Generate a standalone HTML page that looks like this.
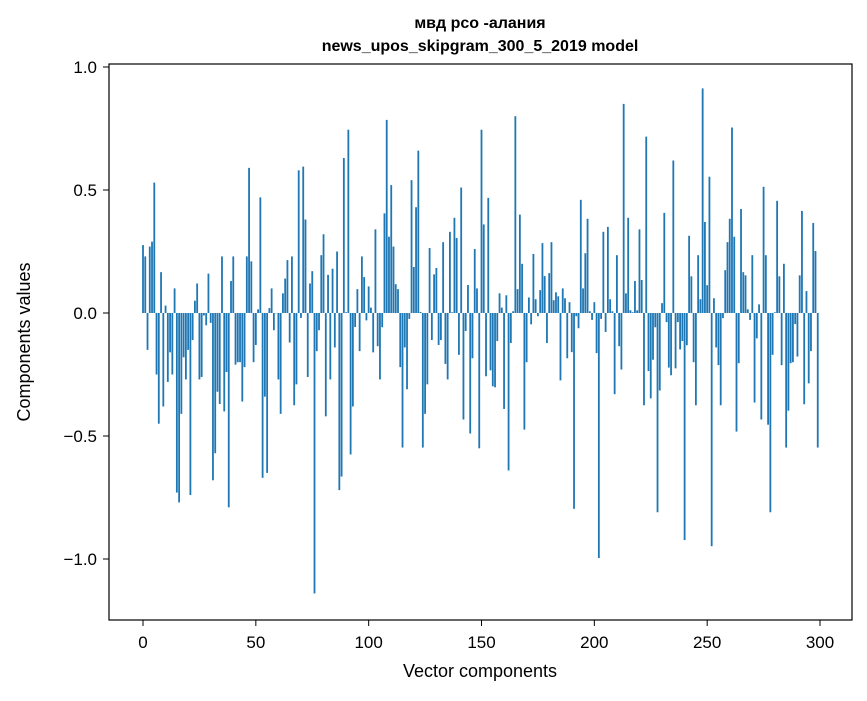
<!DOCTYPE html>
<html><head><meta charset="utf-8"><style>
html,body{margin:0;padding:0;background:#fff;}
svg text{font-family:"Liberation Sans","DejaVu Sans",sans-serif;}
</style></head><body>
<svg id="chart" width="867" height="696" viewBox="0 0 867 696" xmlns="http://www.w3.org/2000/svg">
<rect width="867" height="696" fill="#fff"/>
<text x="480" y="28" text-anchor="middle" font-size="16" font-weight="bold">мвд рсо -алания</text>
<text x="480" y="51" text-anchor="middle" font-size="16" font-weight="bold">news_upos_skipgram_300_5_2019 model</text>
<g id="bars"></g>
<rect x="109" y="64" width="743" height="556" fill="none" stroke="#000" stroke-width="1.2"/>
<g id="xticks"></g>
<g id="yticks"></g>
<text x="480" y="677" text-anchor="middle" font-size="18">Vector components</text>
<text transform="translate(30,342) rotate(-90)" text-anchor="middle" font-size="18">Components values</text>
</svg>
<script>
const values = [0.276,0.23,-0.15,0.27,0.29,0.53,-0.25,-0.45,0.166,-0.38,
0.03,-0.28,-0.16,-0.25,0.10,-0.73,-0.77,-0.41,-0.18,-0.27,
-0.15,-0.74,-0.11,0.05,0.12,-0.27,-0.26,-0.01,-0.05,0.16,
-0.04,-0.68,-0.57,-0.32,-0.37,0.23,-0.40,-0.24,-0.79,0.13,
0.23,-0.21,-0.2,-0.2,-0.36,-0.22,0.23,0.59,0.21,-0.2,
-0.13,0.015,0.47,-0.67,-0.34,-0.65,0.02,0.1,-0.07,0.0,
-0.27,-0.41,0.08,0.14,0.215,-0.12,0.23,-0.375,-0.29,0.58,
-0.02,0.595,0.38,-0.26,0.12,0.17,-1.14,-0.155,-0.07,0.235,
0.32,-0.42,0.155,-0.27,0.18,-0.14,0.25,-0.72,-0.665,0.63,
0.003,0.745,-0.575,-0.38,-0.057,0.097,-0.155,0.23,0.146,-0.03,
0.108,0.022,-0.16,0.34,-0.135,-0.27,-0.058,0.405,0.785,0.31,
0.52,0.27,0.117,0.097,-0.22,-0.547,-0.14,-0.31,-0.024,0.54,
0.187,0.43,0.66,0.004,-0.547,-0.41,-0.29,0.264,-0.11,0.157,
0.183,-0.13,-0.11,0.288,-0.207,-0.27,0.33,0.003,0.387,0.305,
-0.17,0.51,-0.433,-0.073,0.114,-0.49,-0.184,0.26,0.10,-0.55,
0.745,0.36,-0.257,0.468,-0.233,-0.298,-0.302,-0.114,0.08,0.022,
-0.39,0.072,-0.64,-0.122,0.007,0.80,0.097,0.40,0.20,-0.474,
-0.20,0.063,-0.046,0.24,0.056,-0.013,0.093,0.284,0.15,-0.122,
0.162,0.288,0.052,0.084,0.068,-0.274,0.10,0.06,-0.184,0.044,
-0.159,-0.796,-0.013,-0.062,0.46,0.10,0.243,0.383,0.007,-0.028,
0.044,-0.163,-0.996,-0.024,0.33,-0.077,0.35,0.056,0.007,-0.33,
0.235,-0.135,-0.23,0.85,0.08,0.387,0.011,0.003,0.13,0.011,
0.34,0.134,-0.375,0.717,-0.236,-0.347,-0.19,-0.058,-0.81,-0.315,
0.04,0.407,-0.037,-0.222,-0.253,0.62,-0.225,-0.037,-0.148,-0.114,
-0.923,-0.131,0.314,0.149,-0.2,-0.375,0.235,0.056,0.913,0.37,
0.113,0.554,-0.948,0.06,-0.14,-0.212,-0.375,-0.021,0.174,0.288,
0.383,0.754,0.31,-0.482,-0.204,0.423,0.166,0.153,0.015,-0.028,
0.235,-0.364,-0.103,0.035,-0.433,0.513,0.235,-0.454,-0.81,-0.17,
0.003,0.456,0.149,-0.212,0.2,-0.547,-0.397,-0.204,-0.2,-0.045,
-0.177,0.153,0.415,-0.371,0.089,-0.286,-0.155,0.366,0.252,-0.547];
const xTicks = [0,50,100,150,200,250,300];
const yTicks = [-1.0,-0.5,0.0,0.5,1.0];
const yTickLabels = ["\u22121.0","\u22120.5","0.0","0.5","1.0"];

const NS = "http://www.w3.org/2000/svg";
function xs(v){ return 143 + v*(677/300); }
function ys(v){ return 313 - v*246; }
const barsG = document.getElementById('bars');
values.forEach((v,i)=>{
  const r = document.createElementNS(NS,'rect');
  
  
  const x0 = xs(i-0.4), x1 = xs(i+0.4);
  const y0 = ys(Math.max(v,0)), y1 = ys(Math.min(v,0));
  r.setAttribute('x', x0); r.setAttribute('width', x1-x0);
  r.setAttribute('y', y0); r.setAttribute('height', Math.max(y1-y0,0.3));
  r.setAttribute('fill', '#1f77b4');
  barsG.appendChild(r);
});
const xg = document.getElementById('xticks');
xTicks.forEach(t=>{
  const l = document.createElementNS(NS,'line');
  
  
  l.setAttribute('x1', xs(t)); l.setAttribute('x2', xs(t));
  l.setAttribute('y1', 620); l.setAttribute('y2', 626);
  l.setAttribute('stroke', '#000');
  xg.appendChild(l);
  const tx = document.createElementNS(NS,'text');
  
  
  tx.setAttribute('x', xs(t)); tx.setAttribute('y', 648);
  tx.setAttribute('text-anchor', 'middle'); tx.setAttribute('font-size', '17');
  tx.textContent = String(t);
  xg.appendChild(tx);
});
const yg = document.getElementById('yticks');
yTicks.forEach((t,i)=>{
  const l = document.createElementNS(NS,'line');
  
  
  l.setAttribute('x1', 103); l.setAttribute('x2', 109);
  l.setAttribute('y1', ys(t)); l.setAttribute('y2', ys(t));
  l.setAttribute('stroke', '#000');
  yg.appendChild(l);
  const tx = document.createElementNS(NS,'text');
  
  
  tx.setAttribute('x', 97); tx.setAttribute('y', ys(t)+6);
  tx.setAttribute('text-anchor', 'end'); tx.setAttribute('font-size', '17');
  tx.textContent = yTickLabels[i];
  yg.appendChild(tx);
});
</script>
</body></html>
